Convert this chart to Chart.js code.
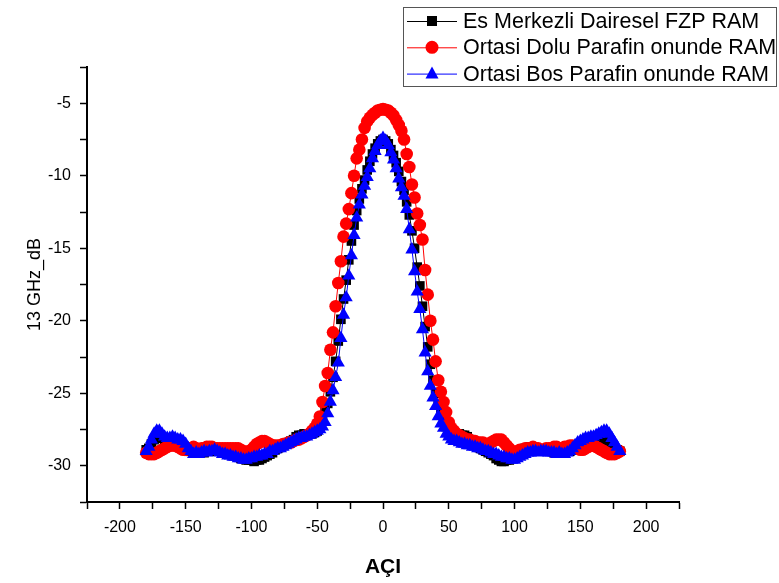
<!DOCTYPE html>
<html>
<head>
<meta charset="utf-8">
<script src="https://cdn.jsdelivr.net/npm/chart.js@4.4.0/dist/chart.umd.min.js"></script>
<style>
  html, body { margin: 0; padding: 0; background: #fff; }
  #wrap { width: 779px; height: 583px; }
</style>
</head>
<body>
<div id="wrap"><canvas id="chart" width="779" height="583"></canvas></div>
<script>
// angle (deg)
const angles = [
  -180,-178,-176,-174,-172,-170,-168,-166,-164,-162,
  -160,-158,-156,-154,-152,-150,-148,-146,-144,-142,
  -140,-138,-136,-134,-132,-130,-128,-126,-124,-122,
  -120,-118,-116,-114,-112,-110,-108,-106,-104,-102,
  -100,-98,-96,-94,-92,-90,-88,-86,-84,-82,
  -80,-78,-76,-74,-72,-70,-68,-66,-64,-62,
  -60,-58,-56,-54,-52,-50,-48,-46,-44,-42,
  -40,-38,-36,-34,-32,-30,-28,-26,-24,-22,
  -20,-18,-16,-14,-12,-10,-8,-6,-4,-2,
  0,
  2,4,6,8,10,12,14,16,18,20,
  22,24,26,28,30,32,34,36,38,40,
  42,44,46,48,50,52,54,56,58,60,
  62,64,66,68,70,72,74,76,78,80,
  82,84,86,88,90,92,94,96,98,100,
  102,104,106,108,110,112,114,116,118,120,
  122,124,126,128,130,132,134,136,138,140,
  142,144,146,148,150,152,154,156,158,160,
  162,164,166,168,170,172,174,176,178,180
];

// Es Merkezli Dairesel FZP RAM
const fzpRam = [
  -28.9,-28.8,-28.5,-28.2,-28.0,-28.0,-28.1,-28.3,-28.4,-28.4,
  -28.4,-28.5,-28.6,-28.7,-28.8,-28.9,-29.0,-29.0,-29.0,-29.1,
  -29.1,-28.9,-29.1,-28.9,-29.0,-28.8,-29.0,-28.9,-28.9,-29.0,
  -29.0,-29.1,-29.2,-29.3,-29.3,-29.4,-29.5,-29.5,-29.6,-29.6,
  -29.6,-29.7,-29.6,-29.6,-29.5,-29.4,-29.3,-29.2,-29.1,-28.9,
  -28.8,-28.7,-28.6,-28.5,-28.4,-28.3,-28.2,-28.0,-27.9,-27.9,
  -27.8,-27.8,-27.8,-27.8,-27.7,-27.6,-27.3,-26.9,-26.3,-25.7,
  -24.9,-23.9,-22.8,-21.4,-19.9,-18.5,-17.2,-15.8,-14.5,-13.4,
  -12.4,-11.6,-10.9,-10.3,-9.6,-9.0,-8.5,-8.1,-7.8,-7.6,
  -7.5,
  -7.6,-7.8,-8.2,-8.6,-9.1,-9.7,-10.4,-11.0,-11.8,-12.7,
  -13.8,-15.0,-16.3,-17.6,-19.0,-20.4,-21.8,-23.0,-24.1,-25.0,
  -25.8,-26.4,-26.9,-27.3,-27.6,-27.7,-27.8,-27.8,-27.8,-27.9,
  -27.9,-28.0,-28.2,-28.3,-28.5,-28.6,-28.8,-28.9,-29.0,-29.1,
  -29.2,-29.3,-29.5,-29.6,-29.7,-29.7,-29.6,-29.6,-29.5,-29.3,
  -29.1,-29.0,-28.9,-28.8,-28.8,-28.7,-28.8,-28.8,-28.9,-28.9,
  -28.9,-29.0,-28.9,-29.0,-29.1,-29.0,-29.0,-28.9,-29.0,-29.0,
  -29.0,-28.9,-28.8,-28.7,-28.6,-28.5,-28.4,-28.4,-28.3,-28.3,
  -28.3,-28.2,-28.2,-28.2,-28.3,-28.4,-28.6,-28.8,-28.9,-29.0
];

// Ortasi Dolu Parafin onunde RAM
const doluRam = [
  -29.1,-29.2,-29.2,-29.2,-29.1,-29.0,-28.9,-28.8,-28.7,-28.6,
  -28.6,-28.6,-28.7,-28.8,-28.9,-28.9,-28.8,-28.8,-28.7,-28.8,
  -28.9,-28.8,-28.8,-28.7,-28.7,-28.7,-28.8,-28.8,-28.8,-28.8,
  -28.8,-28.8,-28.8,-28.8,-28.8,-28.8,-28.9,-29.0,-29.1,-29.0,
  -28.9,-28.7,-28.5,-28.4,-28.3,-28.3,-28.4,-28.5,-28.6,-28.6,
  -28.6,-28.6,-28.5,-28.5,-28.4,-28.4,-28.3,-28.2,-28.2,-28.1,
  -28.0,-27.9,-27.8,-27.6,-27.4,-27.1,-26.6,-25.6,-24.5,-23.6,
  -22.0,-20.8,-19.0,-17.4,-15.9,-14.2,-13.3,-12.3,-11.2,-10.0,
  -8.8,-8.2,-7.5,-6.7,-6.25,-6.0,-5.8,-5.65,-5.5,-5.45,
  -5.4,
  -5.45,-5.5,-5.65,-5.85,-6.15,-6.5,-6.9,-7.5,-8.5,-9.4,
  -10.6,-11.5,-12.6,-13.4,-14.4,-16.5,-18.2,-20.0,-21.3,-22.8,
  -24.1,-24.9,-25.6,-26.3,-27.0,-27.4,-27.6,-27.8,-27.9,-28.0,
  -28.1,-28.2,-28.2,-28.3,-28.3,-28.4,-28.4,-28.4,-28.5,-28.5,
  -28.4,-28.3,-28.2,-28.2,-28.2,-28.4,-28.6,-28.8,-29.0,-29.1,
  -29.0,-28.9,-28.9,-28.8,-28.8,-28.8,-28.7,-28.8,-28.8,-28.9,
  -28.9,-28.8,-28.8,-28.8,-28.7,-28.7,-28.8,-28.8,-28.7,-28.7,
  -28.6,-28.6,-28.7,-28.8,-28.9,-28.9,-28.8,-28.7,-28.6,-28.6,
  -28.7,-28.8,-28.9,-29.0,-29.1,-29.2,-29.2,-29.2,-29.1,-29.0
];

// Ortasi Bos Parafin onunde RAM
const bosRam = [
  -29.0,-28.7,-28.2,-27.8,-27.6,-27.6,-27.8,-28.0,-28.1,-28.1,
  -28.0,-28.1,-28.2,-28.2,-28.3,-28.5,-28.8,-29.0,-29.2,-29.1,
  -29.2,-29.1,-29.0,-29.1,-29.0,-29.0,-28.9,-29.0,-29.1,-29.2,
  -29.2,-29.3,-29.3,-29.4,-29.4,-29.5,-29.5,-29.6,-29.6,-29.5,
  -29.5,-29.4,-29.4,-29.3,-29.3,-29.2,-29.2,-29.0,-29.0,-28.9,
  -28.8,-28.8,-28.7,-28.6,-28.5,-28.4,-28.3,-28.2,-28.1,-28.1,
  -28.0,-28.0,-27.9,-27.8,-27.7,-27.6,-27.5,-27.3,-27.0,-26.4,
  -25.6,-24.8,-23.9,-22.9,-21.2,-19.6,-18.4,-16.9,-15.5,-14.1,
  -12.9,-12.0,-11.3,-10.7,-10.1,-9.5,-8.8,-8.3,-7.9,-7.6,
  -7.4,
  -7.6,-7.9,-8.4,-8.9,-9.5,-10.2,-10.8,-11.4,-12.3,-13.7,
  -15.1,-16.6,-18.0,-19.2,-20.6,-22.2,-23.5,-24.5,-25.3,-25.9,
  -26.6,-27.1,-27.4,-27.8,-28.0,-28.2,-28.3,-28.3,-28.4,-28.5,
  -28.5,-28.6,-28.6,-28.7,-28.7,-28.8,-28.8,-28.9,-29.0,-29.0,
  -29.1,-29.2,-29.2,-29.3,-29.4,-29.4,-29.5,-29.5,-29.6,-29.6,
  -29.5,-29.4,-29.3,-29.2,-29.1,-29.1,-29.0,-29.0,-29.1,-29.0,
  -29.0,-29.0,-29.1,-29.1,-29.1,-29.2,-29.1,-29.2,-29.2,-29.1,
  -29.0,-28.8,-28.6,-28.4,-28.3,-28.2,-28.1,-28.1,-28.0,-28.0,
  -27.9,-27.8,-27.7,-27.6,-27.6,-27.8,-28.1,-28.4,-28.7,-29.0
];

const seriesNames = ['Es Merkezli Dairesel FZP RAM', 'Ortasi Dolu Parafin onunde RAM', 'Ortasi Bos Parafin onunde RAM'];
const seriesColors = ['#000000', '#ff0000', '#0000ff'];
const seriesMarkers = ['rect', 'circle', 'triangle'];
const xTickLabels = [-200, -150, -100, -50, 0, 50, 100, 150, 200];
const yTickLabels = [-5, -10, -15, -20, -25, -30];

Chart.defaults.font.family = "'Liberation Sans', Arial, sans-serif";
Chart.defaults.color = '#000';

function toPoints(vals) {
  return angles.map((a, i) => ({ x: a, y: vals[i] }));
}

const allSeries = [fzpRam, doluRam, bosRam];
const radii = [6.8, 6.3, 7.6];
const datasets = allSeries.map((vals, i) => ({
  label: seriesNames[i],
  data: toPoints(vals),
  borderColor: seriesColors[i],
  borderWidth: 1,
  pointStyle: seriesMarkers[i],
  pointRadius: radii[i],
  pointBackgroundColor: seriesColors[i],
  pointBorderWidth: 0,
  order: 2 - i   // blue on top, black at bottom
}));

// boxed legend in the top right corner
const boxLegend = {
  id: 'boxLegend',
  afterDraw(chart) {
    const ctx = chart.ctx;
    const x0 = chart.width - 376, y0 = 7;
    ctx.save();
    ctx.fillStyle = '#fff';
    ctx.fillRect(x0, y0, 373, 79);
    ctx.strokeStyle = '#555';
    ctx.lineWidth = 1;
    ctx.strokeRect(x0 + 0.5, y0 + 0.5, 373, 79);
    ctx.font = "21.5px 'Liberation Sans', Arial, sans-serif";
    ctx.textBaseline = 'middle';
    seriesNames.forEach((name, i) => {
      const y = y0 + 14 + i * 26.3;
      const c = seriesColors[i];
      ctx.strokeStyle = c;
      ctx.lineWidth = 1;
      ctx.beginPath();
      ctx.moveTo(x0 + 4, y + 0.5);
      ctx.lineTo(x0 + 54, y + 0.5);
      ctx.stroke();
      ctx.fillStyle = c;
      const mx = x0 + 29;
      ctx.beginPath();
      if (seriesMarkers[i] === 'rect') {
        ctx.rect(mx - 5, y - 5, 10, 10);
      } else if (seriesMarkers[i] === 'circle') {
        ctx.arc(mx, y, 6.5, 0, Math.PI * 2);
      } else {
        ctx.moveTo(mx, y - 7);
        ctx.lineTo(mx + 6.5, y + 5);
        ctx.lineTo(mx - 6.5, y + 5);
        ctx.closePath();
      }
      ctx.fill();
      ctx.fillStyle = '#000';
      ctx.fillText(name, x0 + 60, y + 1);
    });
    ctx.restore();
  }
};

new Chart(document.getElementById('chart'), {
  type: 'line',
  data: { datasets },
  options: {
    responsive: false,
    animation: false,
    devicePixelRatio: 1,
    layout: { padding: { left: 24, top: 67, right: 100, bottom: 3 } },
    plugins: { legend: { display: false }, tooltip: { enabled: false } },
    scales: {
      x: {
        type: 'linear',
        min: -225, max: 225,
        afterFit(s) { s.height = 78; },
        ticks: {
          stepSize: 25,
          autoSkip: false,
          maxRotation: 0,
          padding: 9,
          font: { size: 16 },
          color: '#000',
          callback: v => xTickLabels.includes(v) ? String(v) : ''
        },
        grid: { drawOnChartArea: false, drawTicks: true, tickLength: 7, tickWidth: 1.5, tickColor: '#000', color: '#000' },
        border: { display: true, color: '#000', width: 2 },
        title: { display: true, text: 'AÇI', font: { size: 21, weight: 'bold' }, color: '#000', padding: 0 }
      },
      y: {
        min: -32.5, max: -2.5,
        afterFit(s) { s.width = 63; },
        ticks: {
          stepSize: 2.5,
          autoSkip: false,
          padding: 9,
          font: { size: 16 },
          color: '#000',
          callback: v => yTickLabels.includes(v) ? String(v) : ''
        },
        grid: { drawOnChartArea: false, drawTicks: true, tickLength: 7, tickWidth: 1.5, tickColor: '#000', color: '#000' },
        border: { display: true, color: '#000', width: 2 },
        title: { display: true, text: '13 GHz_dB', font: { size: 18 }, color: '#000', padding: 0 }
      }
    }
  },
  plugins: [boxLegend]
});
</script>
</body>
</html>
